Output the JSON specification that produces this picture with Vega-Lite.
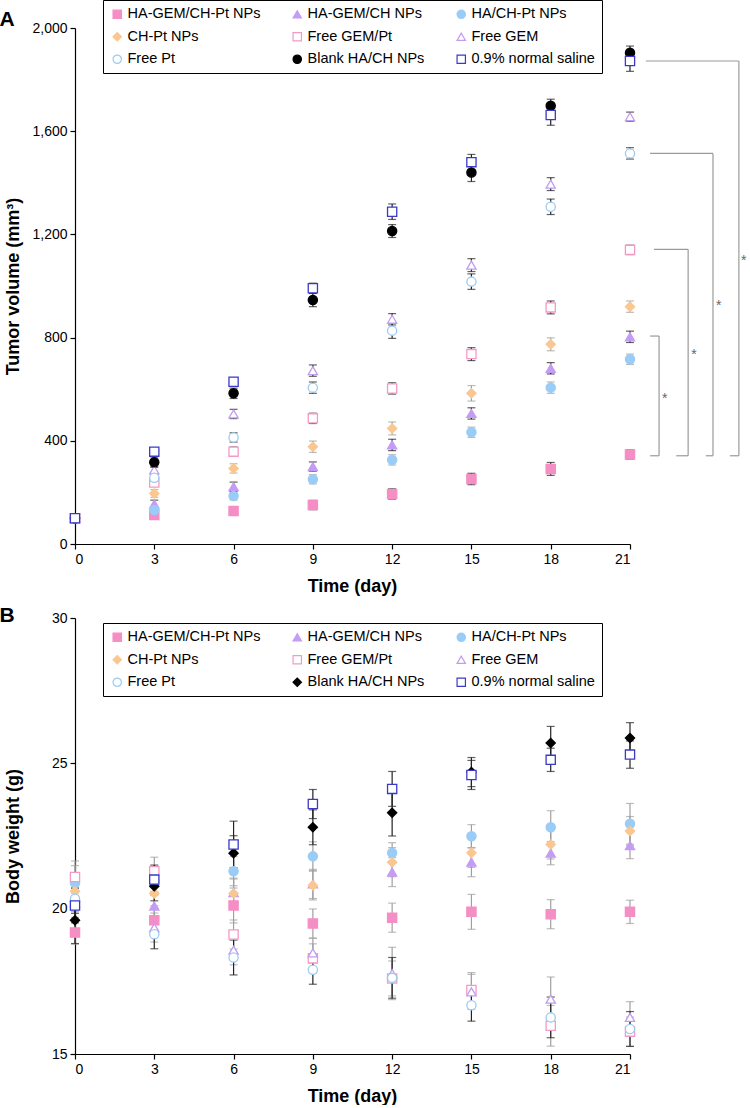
{
  "$schema": "https://vega.github.io/schema/vega-lite/v6.json",
  "padding": {"left": -1, "top": -1, "right": 0, "bottom": 0},
  "background": "white",
  "config": {
    "font": "Liberation Sans",
    "view": {"stroke": null},
    "axis": {"domainColor": "black", "tickColor": "black", "labelColor": "black", "titleColor": "black", "labelFontSize": 14, "titleFontSize": 18, "titleFontWeight": "bold", "grid": false, "tickSize": 5, "labelPadding": 3, "domainWidth": 1.2, "tickWidth": 1.2, "labelFont": "Liberation Sans", "titleFont": "Liberation Sans"},
    "legend": {"direction": "horizontal", "columns": 3, "columnPadding": 29, "rowPadding": 7.5, "padding": 7, "strokeColor": "black", "strokeWidth": 1, "fillColor": "white", "labelFontSize": 14.5, "labelFont": "Liberation Sans", "labelColor": "black", "symbolSize": 70, "symbolStrokeWidth": 1.2, "labelOffset": 3, "labelLimit": 300}
  },
  "datasets": {
    "A": [
      {"s": "HA-GEM/CH-Pt NPs", "d": 0, "v": 100, "e": 8}, {"s": "HA-GEM/CH-Pt NPs", "d": 3, "v": 112, "e": 12}, {"s": "HA-GEM/CH-Pt NPs", "d": 6, "v": 128, "e": 15}, {"s": "HA-GEM/CH-Pt NPs", "d": 9, "v": 151, "e": 18}, {"s": "HA-GEM/CH-Pt NPs", "d": 12, "v": 194, "e": 20}, {"s": "HA-GEM/CH-Pt NPs", "d": 15, "v": 252, "e": 22}, {"s": "HA-GEM/CH-Pt NPs", "d": 18, "v": 291, "e": 25}, {"s": "HA-GEM/CH-Pt NPs", "d": 21, "v": 347, "e": 18},
      {"s": "HA-GEM/CH NPs", "d": 0, "v": 100, "e": 8}, {"s": "HA-GEM/CH NPs", "d": 3, "v": 155, "e": 15}, {"s": "HA-GEM/CH NPs", "d": 6, "v": 222, "e": 18}, {"s": "HA-GEM/CH NPs", "d": 9, "v": 300, "e": 18}, {"s": "HA-GEM/CH NPs", "d": 12, "v": 384, "e": 22}, {"s": "HA-GEM/CH NPs", "d": 15, "v": 506, "e": 22}, {"s": "HA-GEM/CH NPs", "d": 18, "v": 681, "e": 22}, {"s": "HA-GEM/CH NPs", "d": 21, "v": 803, "e": 22},
      {"s": "HA/CH-Pt NPs", "d": 0, "v": 100, "e": 8}, {"s": "HA/CH-Pt NPs", "d": 3, "v": 132, "e": 12}, {"s": "HA/CH-Pt NPs", "d": 6, "v": 186, "e": 15}, {"s": "HA/CH-Pt NPs", "d": 9, "v": 251, "e": 18}, {"s": "HA/CH-Pt NPs", "d": 12, "v": 326, "e": 20}, {"s": "HA/CH-Pt NPs", "d": 15, "v": 433, "e": 20}, {"s": "HA/CH-Pt NPs", "d": 18, "v": 606, "e": 22}, {"s": "HA/CH-Pt NPs", "d": 21, "v": 716, "e": 20},
      {"s": "CH-Pt NPs", "d": 0, "v": 100, "e": 8}, {"s": "CH-Pt NPs", "d": 3, "v": 196, "e": 15}, {"s": "CH-Pt NPs", "d": 6, "v": 293, "e": 18}, {"s": "CH-Pt NPs", "d": 9, "v": 377, "e": 22}, {"s": "CH-Pt NPs", "d": 12, "v": 448, "e": 25}, {"s": "CH-Pt NPs", "d": 15, "v": 584, "e": 30}, {"s": "CH-Pt NPs", "d": 18, "v": 774, "e": 25}, {"s": "CH-Pt NPs", "d": 21, "v": 920, "e": 22},
      {"s": "Free GEM/Pt", "d": 0, "v": 100, "e": 8}, {"s": "Free GEM/Pt", "d": 3, "v": 238, "e": 15}, {"s": "Free GEM/Pt", "d": 6, "v": 358, "e": 18}, {"s": "Free GEM/Pt", "d": 9, "v": 487, "e": 20}, {"s": "Free GEM/Pt", "d": 12, "v": 603, "e": 22}, {"s": "Free GEM/Pt", "d": 15, "v": 736, "e": 25}, {"s": "Free GEM/Pt", "d": 18, "v": 917, "e": 25}, {"s": "Free GEM/Pt", "d": 21, "v": 1140, "e": 18},
      {"s": "Free GEM", "d": 0, "v": 100, "e": 8}, {"s": "Free GEM", "d": 3, "v": 287, "e": 15}, {"s": "Free GEM", "d": 6, "v": 504, "e": 18}, {"s": "Free GEM", "d": 9, "v": 672, "e": 22}, {"s": "Free GEM", "d": 12, "v": 871, "e": 22}, {"s": "Free GEM", "d": 15, "v": 1081, "e": 25}, {"s": "Free GEM", "d": 18, "v": 1395, "e": 25}, {"s": "Free GEM", "d": 21, "v": 1656, "e": 18},
      {"s": "Free Pt", "d": 0, "v": 100, "e": 8}, {"s": "Free Pt", "d": 3, "v": 257, "e": 15}, {"s": "Free Pt", "d": 6, "v": 413, "e": 18}, {"s": "Free Pt", "d": 9, "v": 606, "e": 22}, {"s": "Free Pt", "d": 12, "v": 827, "e": 30}, {"s": "Free Pt", "d": 15, "v": 1017, "e": 30}, {"s": "Free Pt", "d": 18, "v": 1307, "e": 30}, {"s": "Free Pt", "d": 21, "v": 1514, "e": 22},
      {"s": "Blank HA/CH NPs", "d": 0, "v": 100, "e": 8}, {"s": "Blank HA/CH NPs", "d": 3, "v": 317, "e": 20}, {"s": "Blank HA/CH NPs", "d": 6, "v": 584, "e": 20}, {"s": "Blank HA/CH NPs", "d": 9, "v": 946, "e": 26}, {"s": "Blank HA/CH NPs", "d": 12, "v": 1213, "e": 25}, {"s": "Blank HA/CH NPs", "d": 15, "v": 1440, "e": 35}, {"s": "Blank HA/CH NPs", "d": 18, "v": 1699, "e": 25}, {"s": "Blank HA/CH NPs", "d": 21, "v": 1904, "e": 26},
      {"s": "0.9% normal saline", "d": 0, "v": 100, "e": 8}, {"s": "0.9% normal saline", "d": 3, "v": 358, "e": 12}, {"s": "0.9% normal saline", "d": 6, "v": 629, "e": 15}, {"s": "0.9% normal saline", "d": 9, "v": 991, "e": 20}, {"s": "0.9% normal saline", "d": 12, "v": 1288, "e": 30}, {"s": "0.9% normal saline", "d": 15, "v": 1480, "e": 30}, {"s": "0.9% normal saline", "d": 18, "v": 1663, "e": 40}, {"s": "0.9% normal saline", "d": 21, "v": 1872, "e": 40}
    ],
    "B": [
      {"s": "HA-GEM/CH-Pt NPs", "d": 0, "v": 19.18, "e": 0.4}, {"s": "HA-GEM/CH-Pt NPs", "d": 3, "v": 19.6, "e": 0.5}, {"s": "HA-GEM/CH-Pt NPs", "d": 6, "v": 20.11, "e": 0.6}, {"s": "HA-GEM/CH-Pt NPs", "d": 9, "v": 19.49, "e": 0.5}, {"s": "HA-GEM/CH-Pt NPs", "d": 12, "v": 19.69, "e": 0.5}, {"s": "HA-GEM/CH-Pt NPs", "d": 15, "v": 19.89, "e": 0.6}, {"s": "HA-GEM/CH-Pt NPs", "d": 18, "v": 19.81, "e": 0.5}, {"s": "HA-GEM/CH-Pt NPs", "d": 21, "v": 19.89, "e": 0.4},
      {"s": "HA-GEM/CH NPs", "d": 0, "v": 20.4, "e": 0.5}, {"s": "HA-GEM/CH NPs", "d": 3, "v": 20.09, "e": 0.5}, {"s": "HA-GEM/CH NPs", "d": 6, "v": 20.55, "e": 0.5}, {"s": "HA-GEM/CH NPs", "d": 9, "v": 20.85, "e": 0.5}, {"s": "HA-GEM/CH NPs", "d": 12, "v": 21.26, "e": 0.5}, {"s": "HA-GEM/CH NPs", "d": 15, "v": 21.6, "e": 0.5}, {"s": "HA-GEM/CH NPs", "d": 18, "v": 21.91, "e": 0.4}, {"s": "HA-GEM/CH NPs", "d": 21, "v": 22.17, "e": 0.45},
      {"s": "HA/CH-Pt NPs", "d": 0, "v": 20.88, "e": 0.6}, {"s": "HA/CH-Pt NPs", "d": 3, "v": 20.95, "e": 0.5}, {"s": "HA/CH-Pt NPs", "d": 6, "v": 21.29, "e": 0.5}, {"s": "HA/CH-Pt NPs", "d": 9, "v": 21.8, "e": 0.5}, {"s": "HA/CH-Pt NPs", "d": 12, "v": 21.92, "e": 0.35}, {"s": "HA/CH-Pt NPs", "d": 15, "v": 22.49, "e": 0.4}, {"s": "HA/CH-Pt NPs", "d": 18, "v": 22.8, "e": 0.57}, {"s": "HA/CH-Pt NPs", "d": 21, "v": 22.92, "e": 0.7},
      {"s": "CH-Pt NPs", "d": 0, "v": 20.6, "e": 0.5}, {"s": "CH-Pt NPs", "d": 3, "v": 20.52, "e": 0.5}, {"s": "CH-Pt NPs", "d": 6, "v": 20.52, "e": 0.5}, {"s": "CH-Pt NPs", "d": 9, "v": 20.8, "e": 0.5}, {"s": "CH-Pt NPs", "d": 12, "v": 21.6, "e": 0.5}, {"s": "CH-Pt NPs", "d": 15, "v": 21.92, "e": 0.5}, {"s": "CH-Pt NPs", "d": 18, "v": 22.21, "e": 0.5}, {"s": "CH-Pt NPs", "d": 21, "v": 22.67, "e": 0.5},
      {"s": "Free GEM/Pt", "d": 0, "v": 21.09, "e": 0.55}, {"s": "Free GEM/Pt", "d": 3, "v": 21.29, "e": 0.48}, {"s": "Free GEM/Pt", "d": 6, "v": 19.11, "e": 0.5}, {"s": "Free GEM/Pt", "d": 9, "v": 18.29, "e": 0.5}, {"s": "Free GEM/Pt", "d": 12, "v": 17.6, "e": 0.6}, {"s": "Free GEM/Pt", "d": 15, "v": 17.2, "e": 0.6}, {"s": "Free GEM/Pt", "d": 18, "v": 15.97, "e": 0.7}, {"s": "Free GEM/Pt", "d": 21, "v": 15.77, "e": 0.5},
      {"s": "Free GEM", "d": 0, "v": 20.2, "e": 0.5}, {"s": "Free GEM", "d": 3, "v": 19.35, "e": 0.5}, {"s": "Free GEM", "d": 6, "v": 18.57, "e": 0.5}, {"s": "Free GEM", "d": 9, "v": 18.48, "e": 0.5}, {"s": "Free GEM", "d": 12, "v": 17.77, "e": 0.9}, {"s": "Free GEM", "d": 15, "v": 17.14, "e": 0.6}, {"s": "Free GEM", "d": 18, "v": 16.89, "e": 0.76}, {"s": "Free GEM", "d": 21, "v": 16.26, "e": 0.54},
      {"s": "Free Pt", "d": 0, "v": 20.34, "e": 0.5}, {"s": "Free Pt", "d": 3, "v": 19.12, "e": 0.5}, {"s": "Free Pt", "d": 6, "v": 18.32, "e": 0.6}, {"s": "Free Pt", "d": 9, "v": 17.9, "e": 0.5}, {"s": "Free Pt", "d": 12, "v": 17.62, "e": 0.7}, {"s": "Free Pt", "d": 15, "v": 16.68, "e": 0.55}, {"s": "Free Pt", "d": 18, "v": 16.26, "e": 0.7}, {"s": "Free Pt", "d": 21, "v": 15.86, "e": 0.6},
      {"s": "Blank HA/CH NPs", "d": 0, "v": 19.6, "e": 0.8}, {"s": "Blank HA/CH NPs", "d": 3, "v": 20.77, "e": 0.5}, {"s": "Blank HA/CH NPs", "d": 6, "v": 21.91, "e": 0.6}, {"s": "Blank HA/CH NPs", "d": 9, "v": 22.8, "e": 0.6}, {"s": "Blank HA/CH NPs", "d": 12, "v": 23.3, "e": 0.8}, {"s": "Blank HA/CH NPs", "d": 15, "v": 24.7, "e": 0.5}, {"s": "Blank HA/CH NPs", "d": 18, "v": 25.7, "e": 0.57}, {"s": "Blank HA/CH NPs", "d": 21, "v": 25.87, "e": 0.53},
      {"s": "0.9% normal saline", "d": 0, "v": 20.11, "e": 0.6}, {"s": "0.9% normal saline", "d": 3, "v": 21.0, "e": 0.5}, {"s": "0.9% normal saline", "d": 6, "v": 22.21, "e": 0.8}, {"s": "0.9% normal saline", "d": 9, "v": 23.6, "e": 0.5}, {"s": "0.9% normal saline", "d": 12, "v": 24.12, "e": 0.6}, {"s": "0.9% normal saline", "d": 15, "v": 24.6, "e": 0.5}, {"s": "0.9% normal saline", "d": 18, "v": 25.12, "e": 0.4}, {"s": "0.9% normal saline", "d": 21, "v": 25.3, "e": 0.47}
    ],
    "Abr": [
      {"d": 21.76, "d2": 22.1, "v": 806, "v2": 806}, {"d": 22.1, "d2": 22.1, "v": 806, "v2": 342}, {"d": 21.76, "d2": 22.1, "v": 342, "v2": 342},
      {"d": 21.91, "d2": 23.2, "v": 1142, "v2": 1142}, {"d": 23.2, "d2": 23.2, "v": 1142, "v2": 342}, {"d": 22.75, "d2": 23.2, "v": 342, "v2": 342},
      {"d": 21.76, "d2": 24.14, "v": 1514, "v2": 1514}, {"d": 24.14, "d2": 24.14, "v": 1514, "v2": 342}, {"d": 23.87, "d2": 24.14, "v": 342, "v2": 342},
      {"d": 21.6, "d2": 25.12, "v": 1872, "v2": 1872}, {"d": 25.12, "d2": 25.12, "v": 1872, "v2": 342}, {"d": 24.78, "d2": 25.12, "v": 342, "v2": 342}
    ],
    "Ast": [
      {"d": 22.31, "v": 575, "t": "*"}, {"d": 23.42, "v": 745, "t": "*"}, {"d": 24.36, "v": 935, "t": "*"}, {"d": 25.3, "v": 1110, "t": "*"}
    ],
    "Alab": [{"d": -2.57, "v": 2008, "t": "A"}],
    "Blab": [{"d": -2.57, "v": 29.87, "t": "B"}]
  },
  "bounds": "flush",
  "spacing": 74,
  "resolve": {
    "scale": {"x": "independent", "y": "independent", "fill": "independent", "stroke": "independent", "shape": "independent"},
    "legend": {"fill": "independent", "stroke": "independent", "shape": "independent"}
  },
  "vconcat": [
    {
      "width": 555,
      "height": 516,
      "encoding": {
        "x": {"field": "d", "type": "quantitative", "scale": {"domain": [0, 21], "nice": false, "zero": false}, "axis": {"values": [0, 3, 6, 9, 12, 15, 18, 21], "title": "Time (day)", "titleX": 277, "titleY": 47, "titleBaseline": "alphabetic", "titleAlign": "center"}},
        "y": {"field": "v", "type": "quantitative", "scale": {"domain": [0, 2000], "nice": false, "zero": false}, "axis": {"values": [0, 400, 800, 1200, 1600, 2000], "format": ",d", "title": "Tumor volume (mm³)", "titleX": -57, "titleY": 258, "titleAngle": -90, "titleBaseline": "alphabetic", "titleAlign": "center"}}
      },
      "layer": [
        {
          "data": {"name": "A"},
          "transform": [{"filter": {"field": "s", "oneOf": ["HA/CH-Pt NPs", "CH-Pt NPs"]}}],
          "mark": {"type": "errorbar", "color": "#a0a0a0", "thickness": 1.2, "ticks": {"size": 8, "thickness": 1.2, "color": "#a0a0a0"}},
          "encoding": {"yError": {"field": "e"}}
        },
        {
          "data": {"name": "A"},
          "transform": [{"filter": {"field": "s", "oneOf": ["HA-GEM/CH-Pt NPs", "HA-GEM/CH NPs", "Free GEM/Pt", "Free GEM", "Free Pt", "Blank HA/CH NPs", "0.9% normal saline"]}}],
          "mark": {"type": "errorbar", "color": "#222222", "thickness": 1.2, "ticks": {"size": 8, "thickness": 1.2, "color": "#222222"}},
          "encoding": {"yError": {"field": "e"}}
        },
        {
          "data": {"name": "A"},
          "mark": {"type": "point", "size": 85, "strokeWidth": 1.3, "opacity": 1},
          "encoding": {
            "fill": {"field": "s", "type": "nominal", "scale": {"domain": ["HA-GEM/CH-Pt NPs", "HA-GEM/CH NPs", "HA/CH-Pt NPs", "CH-Pt NPs", "Free GEM/Pt", "Free GEM", "Free Pt", "Blank HA/CH NPs", "0.9% normal saline"], "range": ["#F58EC4", "#C59CF5", "#99CCF7", "#FAC790", "white", "white", "white", "black", "white"]}, "legend": {"title": null, "orient": "none", "legendX": 28, "legendY": -28}},
            "stroke": {"field": "s", "type": "nominal", "scale": {"domain": ["HA-GEM/CH-Pt NPs", "HA-GEM/CH NPs", "HA/CH-Pt NPs", "CH-Pt NPs", "Free GEM/Pt", "Free GEM", "Free Pt", "Blank HA/CH NPs", "0.9% normal saline"], "range": ["#F58EC4", "#C59CF5", "#99CCF7", "#FAC790", "#F29AC6", "#C29CF0", "#9CCBF2", "black", "#3A3AC8"]}, "legend": {"title": null, "orient": "none", "legendX": 28, "legendY": -28}},
            "shape": {"field": "s", "type": "nominal", "scale": {"domain": ["HA-GEM/CH-Pt NPs", "HA-GEM/CH NPs", "HA/CH-Pt NPs", "CH-Pt NPs", "Free GEM/Pt", "Free GEM", "Free Pt", "Blank HA/CH NPs", "0.9% normal saline"], "range": ["square", "triangle-up", "circle", "diamond", "square", "triangle-up", "circle", "circle", "square"]}, "legend": {"title": null, "orient": "none", "legendX": 28, "legendY": -28}}
          }
        },
        {
          "data": {"name": "Abr"},
          "mark": {"type": "rule", "color": "#9a9a9a", "strokeWidth": 1.2},
          "encoding": {"x2": {"field": "d2"}, "y2": {"field": "v2"}}
        },
        {
          "data": {"name": "Ast"},
          "mark": {"type": "text", "fontSize": 14, "color": "#666666", "align": "center", "baseline": "alphabetic", "dy": 7},
          "encoding": {"text": {"field": "t"}}
        },
        {
          "data": {"name": "Alab"},
          "mark": {"type": "text", "fontSize": 21, "fontWeight": "bold", "color": "black", "align": "center", "baseline": "alphabetic"},
          "encoding": {"text": {"field": "t"}}
        }
      ]
    },
    {
      "width": 555,
      "height": 436,
      "encoding": {
        "x": {"field": "d", "type": "quantitative", "scale": {"domain": [0, 21], "nice": false, "zero": false}, "axis": {"values": [0, 3, 6, 9, 12, 15, 18, 21], "title": "Time (day)", "titleX": 277, "titleY": 47, "titleBaseline": "alphabetic", "titleAlign": "center"}},
        "y": {"field": "v", "type": "quantitative", "scale": {"domain": [15, 30], "nice": false, "zero": false}, "axis": {"values": [15, 20, 25, 30], "title": "Body weight (g)", "titleX": -57, "titleY": 218, "titleAngle": -90, "titleBaseline": "alphabetic", "titleAlign": "center"}}
      },
      "layer": [
        {
          "data": {"name": "B"},
          "transform": [{"filter": {"field": "s", "oneOf": ["HA-GEM/CH-Pt NPs", "HA-GEM/CH NPs", "HA/CH-Pt NPs", "CH-Pt NPs", "Free GEM/Pt", "Free GEM"]}}],
          "mark": {"type": "errorbar", "color": "#a0a0a0", "thickness": 1.2, "ticks": {"size": 8, "thickness": 1.2, "color": "#a0a0a0"}},
          "encoding": {"yError": {"field": "e"}}
        },
        {
          "data": {"name": "B"},
          "transform": [{"filter": {"field": "s", "oneOf": ["Free Pt", "Blank HA/CH NPs", "0.9% normal saline"]}}],
          "mark": {"type": "errorbar", "color": "#222222", "thickness": 1.2, "ticks": {"size": 8, "thickness": 1.2, "color": "#222222"}},
          "encoding": {"yError": {"field": "e"}}
        },
        {
          "data": {"name": "B"},
          "mark": {"type": "point", "size": 85, "strokeWidth": 1.3, "opacity": 1},
          "encoding": {
            "fill": {"field": "s", "type": "nominal", "scale": {"domain": ["HA-GEM/CH-Pt NPs", "HA-GEM/CH NPs", "HA/CH-Pt NPs", "CH-Pt NPs", "Free GEM/Pt", "Free GEM", "Free Pt", "Blank HA/CH NPs", "0.9% normal saline"], "range": ["#F58EC4", "#C59CF5", "#99CCF7", "#FAC790", "white", "white", "white", "black", "white"]}, "legend": {"title": null, "orient": "none", "legendX": 28, "legendY": 5}},
            "stroke": {"field": "s", "type": "nominal", "scale": {"domain": ["HA-GEM/CH-Pt NPs", "HA-GEM/CH NPs", "HA/CH-Pt NPs", "CH-Pt NPs", "Free GEM/Pt", "Free GEM", "Free Pt", "Blank HA/CH NPs", "0.9% normal saline"], "range": ["#F58EC4", "#C59CF5", "#99CCF7", "#FAC790", "#F29AC6", "#C29CF0", "#9CCBF2", "black", "#3A3AC8"]}, "legend": {"title": null, "orient": "none", "legendX": 28, "legendY": 5}},
            "shape": {"field": "s", "type": "nominal", "scale": {"domain": ["HA-GEM/CH-Pt NPs", "HA-GEM/CH NPs", "HA/CH-Pt NPs", "CH-Pt NPs", "Free GEM/Pt", "Free GEM", "Free Pt", "Blank HA/CH NPs", "0.9% normal saline"], "range": ["square", "triangle-up", "circle", "diamond", "square", "triangle-up", "circle", "diamond", "square"]}, "legend": {"title": null, "orient": "none", "legendX": 28, "legendY": 5}}
          }
        },
        {
          "data": {"name": "Blab"},
          "mark": {"type": "text", "fontSize": 21, "fontWeight": "bold", "color": "black", "align": "center", "baseline": "alphabetic"},
          "encoding": {"text": {"field": "t"}}
        }
      ]
    }
  ]
}
